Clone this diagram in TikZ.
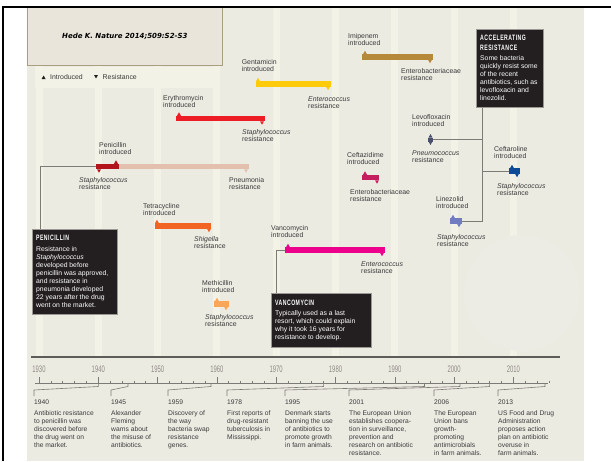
\documentclass[tikz,border=0pt]{standalone}
\usepackage{fontspec}
\setmainfont{Liberation Sans}
\newfontfamily\headfont[FakeStretch=0.66,LetterSpace=6]{Liberation Sans}
\newfontfamily\yearfont[FakeStretch=0.62]{Liberation Sans}
\newfontfamily\reffont{DejaVu Sans}
\usetikzlibrary{shapes.geometric}

\definecolor{bg}{HTML}{ECEBE2}
\definecolor{stripe}{HTML}{F3F2E7}
\definecolor{halo}{HTML}{EDECE4}
\definecolor{titlefill}{HTML}{E9E5DA}
\definecolor{titleedge}{HTML}{A99E80}
\definecolor{ink}{HTML}{3A3A3A}
\definecolor{linegrey}{HTML}{7E7B76}
\definecolor{axisgrey}{HTML}{5E5C58}
\definecolor{yeargrey}{HTML}{8E8A84}
\definecolor{boxblack}{HTML}{231F20}
\definecolor{boxedge}{HTML}{9A9893}
\definecolor{pendark}{HTML}{B3141B}
\definecolor{penlight}{HTML}{E3C0AD}
\definecolor{erycol}{HTML}{EE1C25}
\definecolor{gencol}{HTML}{FDCB0A}
\definecolor{imicol}{HTML}{B5883A}
\definecolor{tetcol}{HTML}{F26424}
\definecolor{metcol}{HTML}{F8A65A}
\definecolor{vancol}{HTML}{EC008C}
\definecolor{cazcol}{HTML}{C41E5F}
\definecolor{levcol}{HTML}{4A5070}
\definecolor{cptcol}{HTML}{0F4C97}
\definecolor{lincol}{HTML}{717CC1}

\tikzset{
  bar/.style={fill=#1, anchor=west, inner sep=0pt, outer sep=0pt, minimum height=5.5pt},
  intro/.style={regular polygon, regular polygon sides=3, fill=#1, inner sep=0pt,
    outer sep=0pt, minimum size=4.6pt, anchor=south},
  resist/.style={intro=#1, shape border rotate=180, anchor=north},
  lbl/.style={anchor=north west, align=left, inner sep=0pt, text=ink,
    font=\fontsize{6.9}{7.4}\selectfont},
  conn/.style={draw=linegrey, line width=0.7pt},
  darkbox/.style={fill=boxblack, draw=boxedge, line width=0.8pt, anchor=north west, inner sep=0pt},
  boxhead/.style={anchor=north west, align=left, inner sep=0pt, text=white,
    font=\headfont\bfseries\fontsize{7.8}{10}\selectfont},
  boxbody/.style={anchor=north west, align=left, inner sep=0pt, text=white,
    font=\fontsize{6.8}{8}\selectfont},
  event/.style={anchor=north west, align=left, inner sep=0pt, text=ink,
    font=\fontsize{6.7}{8}\selectfont},
}

\begin{document}
\begin{tikzpicture}[x=1pt,y=-1pt]
  \useasboundingbox (0,0) rectangle (611,461);

  % background
  \fill[white] (0,0) rectangle (611,461);
  \fill[bg] (27,8) rectangle (584,461);
  \foreach \yr in {1930,1940,...,2010}{
    \pgfmathsetmacro\tx{39+(\yr-1930)*5.93}
    \fill[stripe] (\tx-3.5,8) rectangle (\tx+3.5,356);
  }
  \fill[halo] (522,293) circle (58);
  \fill[stripe] (35,67) rectangle (215,88);

  \node[draw=titleedge, fill=titlefill, line width=0.6pt, minimum width=195pt, minimum height=58pt,
    anchor=north west, inner sep=0pt] (refbox) at (27,7) {};
  \node[font=\reffont\bfseries\itshape\fontsize{7}{8}\selectfont] (reftext) at (refbox.center)
    {Hede K. Nature 2014;509:S2-S3};
  \draw[line width=2.3pt] (3,461) -- (3,7) -- (611,7);

  % legend
  \node[intro=boxblack] (keyup) at (43.6,79) {};
  \node[lbl, anchor=west] (keyintro) at (50,77) {Introduced};
  \node[resist=boxblack] (keydown) at (96,75) {};
  \node[lbl, anchor=west] (keyres) at (102.5,77) {Resistance};

  % penicillin
  \node[bar=pendark, minimum width=23pt] (pendark) at (96,166.5) {};
  \node[bar=penlight, minimum width=130pt] (penlight) at (119,166.5) {};
  \node[intro=pendark] (penup) at (116,163.75) {};
  \node[resist=pendark] (pendown) at (99,169.25) {};
  \node[resist=penlight] (pnedown) at (246,169.25) {};
  \node[lbl] (penintro) at (99,142.3) {Penicillin\\introduced};
  \node[lbl] (penres) at (79,177.3) {\textit{Staphylococcus}\\resistance};
  \node[lbl] (pneres) at (229,177.3) {Pneumonia\\resistance};

  % erythromycin
  \node[bar=erycol, minimum width=89pt] (erybar) at (176,118.5) {};
  \node[intro=erycol] (eryup) at (179,115.75) {};
  \node[resist=erycol] (erydown) at (262,121.25) {};
  \node[lbl] (eryintro) at (163,95.3) {Erythromycin\\introduced};
  \node[lbl] (eryres) at (242,129.3) {\textit{Staphylococcus}\\resistance};

  % gentamicin
  \node[bar=gencol, minimum width=74.5pt] (genbar) at (256,84) {};
  \node[intro=gencol] (genup) at (258,81.25) {};
  \node[resist=gencol] (gendown) at (328,86.75) {};
  \node[lbl] (genintro) at (241.6,59.3) {Gentamicin\\introduced};
  \node[lbl] (genres) at (308,96.3) {\textit{Enterococcus}\\resistance};

  % imipenem
  \node[bar=imicol, minimum width=71pt] (imibar) at (362,57) {};
  \node[intro=imicol] (imiup) at (365,54.25) {};
  \node[resist=imicol] (imidown) at (430,59.75) {};
  \node[lbl] (imiintro) at (348,33.3) {Imipenem\\introduced};
  \node[lbl] (imires) at (401,68.3) {Enterobacteriaceae\\resistance};

  % tetracycline
  \node[bar=tetcol, minimum width=56pt] (tetbar) at (155,226) {};
  \node[intro=tetcol] (tetup) at (157,223.25) {};
  \node[resist=tetcol] (tetdown) at (209,228.75) {};
  \node[lbl] (tetintro) at (143,203.3) {Tetracycline\\introduced};
  \node[lbl] (tetres) at (194,236.3) {\textit{Shigella}\\resistance};

  % methicillin
  \node[bar=metcol, minimum width=15pt] (metbar) at (214,304) {};
  \node[intro=metcol] (metup) at (217,301.25) {};
  \node[resist=metcol] (metdown) at (226,306.75) {};
  \node[lbl] (metintro) at (202,280.3) {Methicillin\\introduced};
  \node[lbl] (metres) at (205,314.3) {\textit{Staphylococcus}\\resistance};

  % vancomycin
  \node[bar=vancol, minimum width=100pt] (vanbar) at (285,250) {};
  \node[intro=vancol] (vanup) at (288,247.25) {};
  \node[resist=vancol] (vandown) at (382,252.75) {};
  \node[lbl] (vanintro) at (271,225.3) {Vancomycin\\introduced};
  \node[lbl] (vanres) at (361,261.3) {\textit{Enterococcus}\\resistance};

  % ceftazidime
  \node[bar=cazcol, minimum width=17pt] (cazbar) at (362,177.5) {};
  \node[intro=cazcol] (cazup) at (365,174.75) {};
  \node[resist=cazcol] (cazdown) at (377,180.25) {};
  \node[lbl] (cazintro) at (347,152.3) {Ceftazidime\\introduced};
  \node[lbl] (cazres) at (350,189.3) {Enterobacteriaceae\\resistance};

  % levofloxacin
  \node[bar=levcol, minimum width=5pt, minimum height=4pt] (levbar) at (428,139.5) {};
  \node[intro=levcol] (levup) at (430.5,137.5) {};
  \node[resist=levcol] (levdown) at (430.5,141.5) {};
  \node[lbl] (levintro) at (412,114.3) {Levofloxacin\\introduced};
  \node[lbl] (levres) at (412,150.3) {\textit{Pneumococcus}\\resistance};

  % ceftaroline
  \node[bar=cptcol, minimum width=11pt] (cptbar) at (509,171) {};
  \node[intro=cptcol] (cptup) at (512,168.25) {};
  \node[resist=cptcol] (cptdown) at (517,173.75) {};
  \node[lbl] (cptintro) at (494,146.3) {Ceftaroline\\introduced};
  \node[lbl] (cptres) at (497,183.3) {\textit{Staphylococcus}\\resistance};

  % linezolid
  \node[bar=lincol, minimum width=12pt] (linbar) at (450,221) {};
  \node[intro=lincol] (linup) at (453,218.25) {};
  \node[resist=lincol] (lindown) at (459,223.75) {};
  \node[lbl] (linintro) at (436,196.3) {Linezolid\\introduced};
  \node[lbl] (linres) at (437,234.3) {\textit{Staphylococcus}\\resistance};

  % call-out boxes
  \node[darkbox, minimum width=85pt, minimum height=85pt] (penbox) at (32,229) {};
  \node[boxhead] (pentitle) at (36,235) {PENICILLIN};
  \node[boxbody] (penbody) at (36,246.3) {Resistance in\\\textit{Staphylococcus}\\developed before\\penicillin was approved,\\and resistance in\\pneumonia developed\\22 years after the drug\\went on the market.};
  \draw[conn] ([xshift=8pt]penbox.north west) |- (pendark.west);

  \node[darkbox, minimum width=100pt, minimum height=54pt] (vanbox) at (271,293) {};
  \node[boxhead] (vantitle) at (275,300) {VANCOMYCIN};
  \node[boxbody] (vanbody) at (275,310.3) {Typically used as a last\\resort, which could explain\\why it took 16 years for\\resistance to develop.};
  \draw[conn] ([xshift=5pt]vanbox.north west) |- (vanbar.west);

  \node[darkbox, minimum width=66.5pt, minimum height=78pt] (accbox) at (476,29) {};
  \node[boxhead] (acctitle) at (480,34.5) {ACCELERATING\\RESISTANCE};
  \node[boxbody] (accbody) at (480,55.3) {Some bacteria\\quickly resist some\\of the recent\\antibiotics, such as\\levofloxacin and\\linezolid.};
  \coordinate (spine) at ([xshift=6pt]accbox.south west);
  \draw[conn] (spine) |- (linbar.east);
  \draw[conn] (levbar.east) -- (levbar.east -| spine);
  \draw[conn] (cptbar.west) -- (cptbar.west -| spine);

  % time axis
  \draw[axisgrey, line width=1.6pt] (31,357) -- (560,357);
  \draw[linegrey, line width=0.5pt] (35,383) -- (548,383);
  \foreach \yr in {1930,1932,...,2016}{
    \pgfmathsetmacro\tx{39+(\yr-1930)*5.93}
    \pgfmathsetmacro\tl{mod(\yr,10)==0 ? 6 : 2.5}
    \draw[linegrey, line width=0.6pt] (\tx,383) -- ++(0,-\tl);
  }
  \foreach \yr in {1930,1940,...,2010}{
    \pgfmathsetmacro\tx{39+(\yr-1930)*5.93}
    \node[text=yeargrey, inner sep=0pt, font=\yearfont\fontsize{9.5}{10}\selectfont] (yr\yr) at (\tx,369) {\yr};
  }
  \foreach \yr in {1940,1945,1959,1978,1995,2001,2006}
    \coordinate (t\yr) at ({39+(\yr-1930)*5.93},383);
  \coordinate (t2013) at (545,383);

  % events
  \node[event] (ev1940) at (34,400) {1940\\[3pt]Antibiotic resistance\\to penicillin was\\discovered before\\the drug went on\\the market.};
  \node[event] (ev1945) at (111,400) {1945\\[3pt]Alexander\\Fleming\\warns about\\the misuse of\\antibiotics.};
  \node[event] (ev1959) at (168,400) {1959\\[3pt]Discovery of\\the way\\bacteria swap\\resistance\\genes.};
  \node[event] (ev1978) at (227,400) {1978\\[3pt]First reports of\\drug-resistant\\tuberculosis in\\Mississippi.};
  \node[event] (ev1995) at (285,400) {1995\\[3pt]Denmark starts\\banning the use\\of antibiotics to\\promote growth\\in farm animals.};
  \node[event] (ev2001) at (349,400) {2001\\[3pt]The European Union\\establishes coopera-\\tion in surveillance,\\prevention and\\research on antibiotic\\resistance.};
  \node[event] (ev2006) at (434,400) {2006\\[3pt]The European\\Union bans\\growth-\\promoting\\antimicrobials\\in farm animals.};
  \node[event] (ev2013) at (498,400) {2013\\[3pt]US Food and Drug\\Administration\\proposes action\\plan on antibiotic\\overuse in\\farm animals.};

  \foreach \yr in {1940,1945,1959,1978,1995,2001,2006,2013}
    \draw[conn, line width=0.6pt] ([yshift=4pt]ev\yr.north west) -- ++(0,-6) -- ([yshift=-3.5pt]t\yr) -- (t\yr);
\end{tikzpicture}
\end{document}
